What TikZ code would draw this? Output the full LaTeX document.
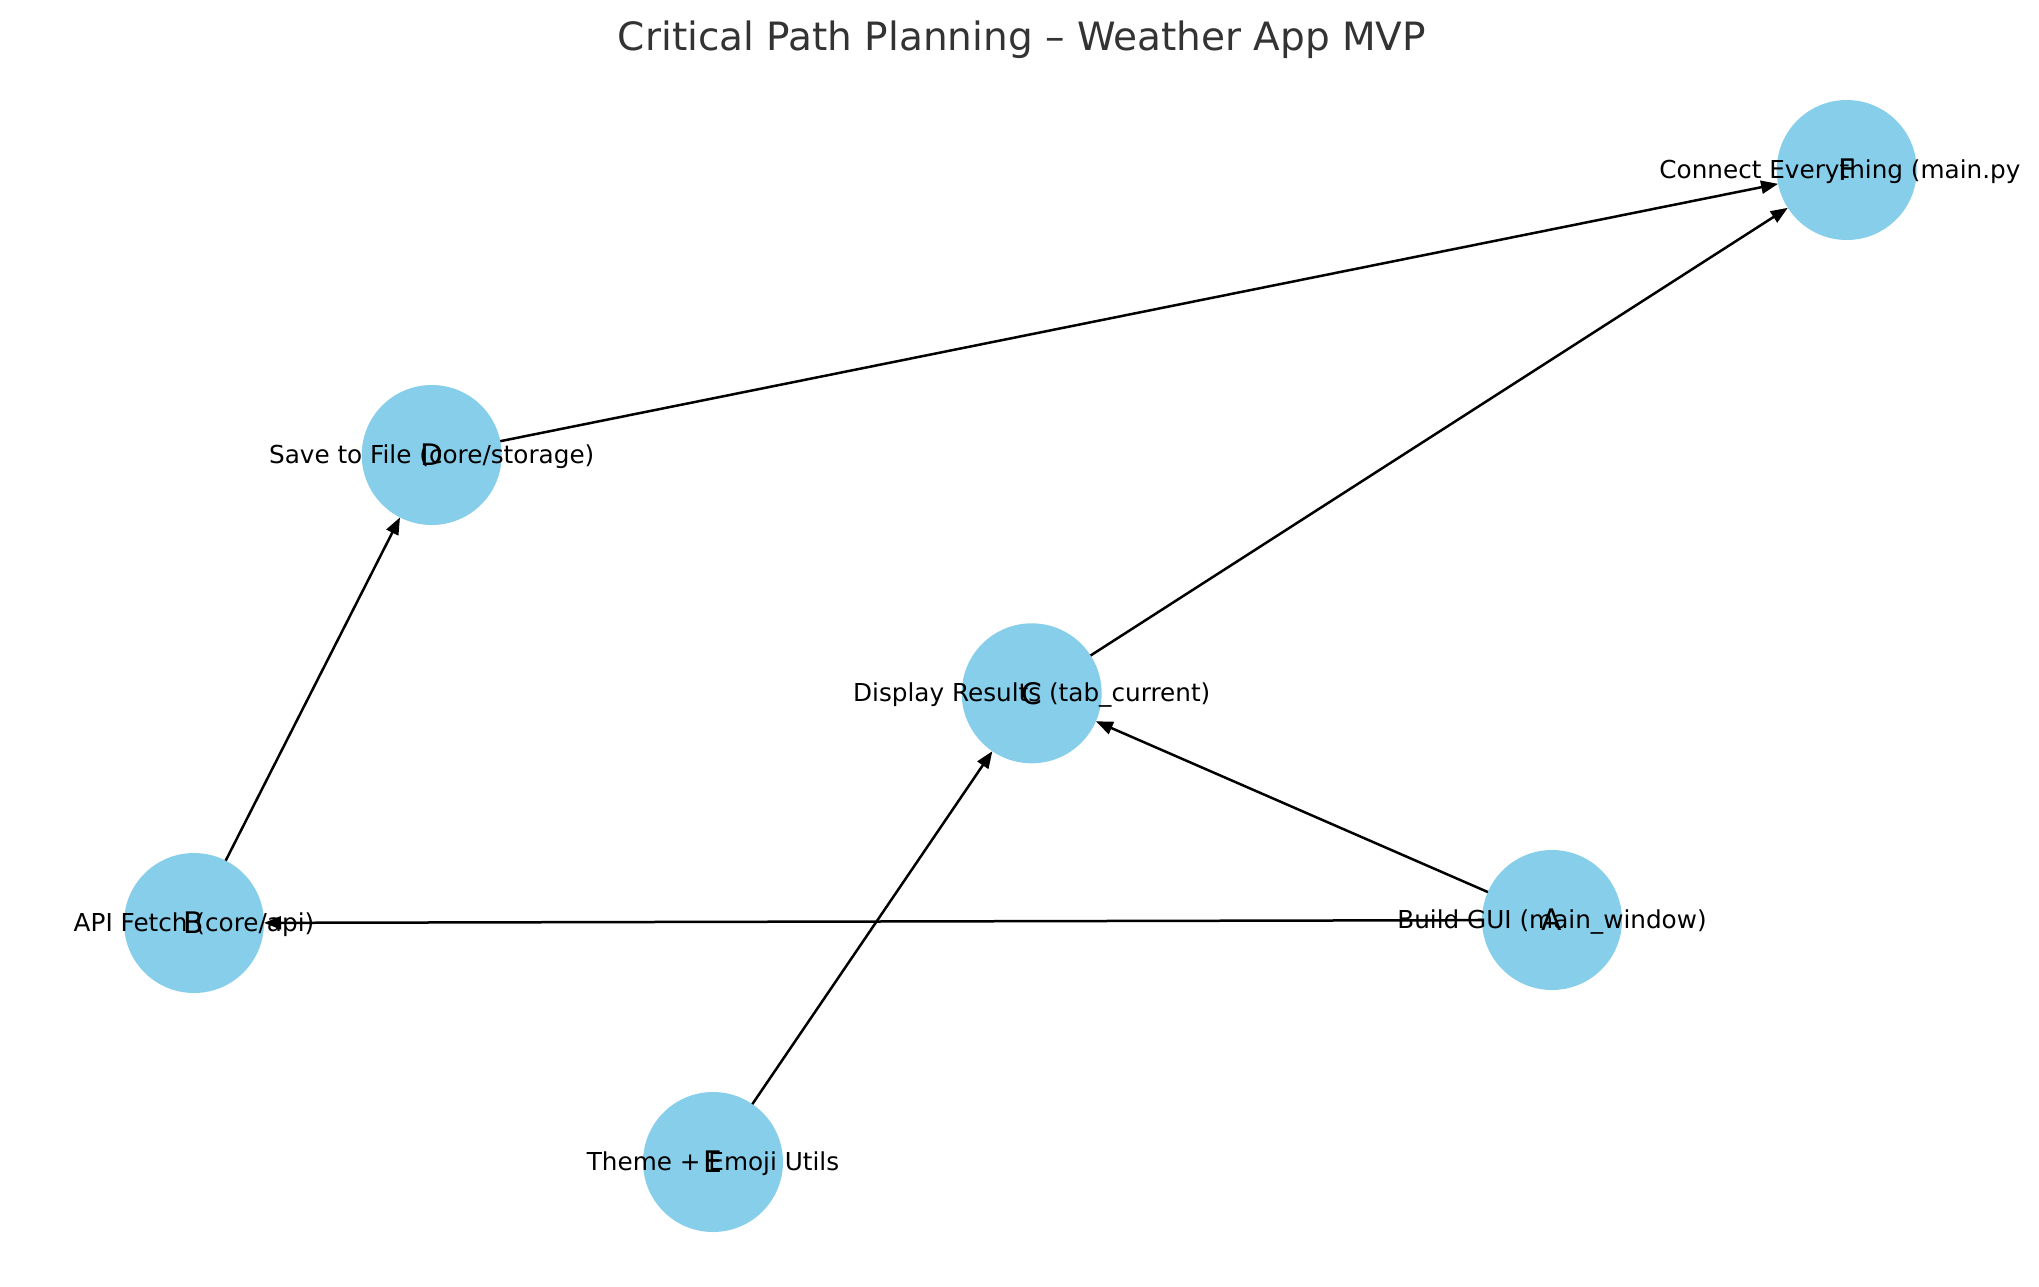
\documentclass[tikz,border=0pt]{standalone}
\usepackage{fontspec}
\setmainfont{DejaVu Sans}
\usetikzlibrary{arrows.meta}
\definecolor{nodeblue}{HTML}{87CEEB}
\definecolor{titlegray}{HTML}{333333}
\begin{document}
\begin{tikzpicture}[x=0.5pt,y=-0.5pt,
  task/.style={circle, fill=nodeblue, draw=none, minimum size=70pt, inner sep=0pt, outer sep=0pt,
    font=\fontsize{14.85}{16}\selectfont, text=black},
  desc/.style={font=\fontsize{12.35}{14}\selectfont, anchor=base, inner sep=0pt, text=black},
  link/.style={-{Triangle[length=8.5pt,width=6.5pt]}, line width=1.25pt, black}]
\useasboundingbox (0,0) rectangle (2039,1286);
\node[font=\fontsize{19.5}{24}\selectfont, text=titlegray, anchor=base, inner sep=0pt] (title) at (1022,50) {Critical Path Planning – Weather App MVP};
% nodes
\node[task] (A) at (1552,920) {A};
\node[task] (B) at (194,923) {B};
\node[task] (C) at (1031.7,693.3) {C};
\node[task] (D) at (431.7,455) {D};
\node[task] (E) at (713,1162) {E};
\node[task] (F) at (1846.7,170) {F};
% edges
\draw[link] (B) -- (D);
\draw[link] (D) -- (F);
\draw[link] (C) -- (F);
\draw[link] (A) -- (C);
\draw[link] (A) -- (B);
\draw[link] (E) -- (C);
% labels
\node[desc] (Alab) at ([yshift=-4pt]A.center) {Build GUI (main\_window)};
\node[desc] (Blab) at ([yshift=-4pt]B.center) {API Fetch (core/api)};
\node[desc] (Clab) at ([yshift=-4pt]C.center) {Display Results (tab\_current)};
\node[desc] (Dlab) at ([yshift=-4pt]D.center) {Save to File (core/storage)};
\node[desc] (Elab) at ([yshift=-4pt]E.center) {Theme + Emoji Utils};
\node[desc, anchor=base west] (Flab) at ([xshift=-93.85pt,yshift=-4pt]F.center) {Connect Everything (main.py};
\end{tikzpicture}
\end{document}
